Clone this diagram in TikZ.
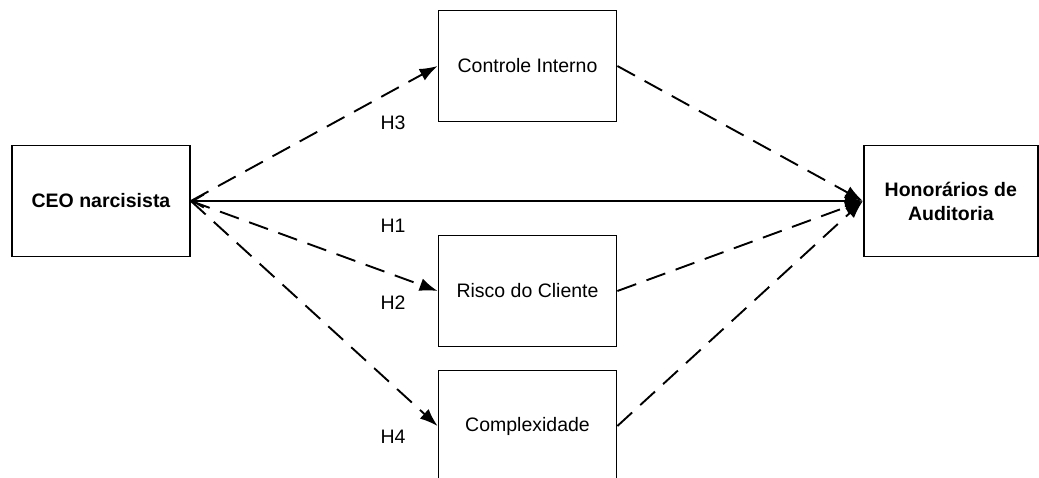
\documentclass[tikz,border=0pt]{standalone}
\usepackage{fontspec}
\setmainfont{Liberation Sans}
\usetikzlibrary{arrows.meta,positioning}

\begin{document}
\begin{tikzpicture}[
      x=1pt, y=-1pt,
      every node/.style = {align=center, font=\fontsize{19.5}{24}\selectfont},
      box/.style = {draw=black, line width=1.8pt, minimum width=178pt, minimum height=111pt, inner sep=0pt},
      keybox/.style = {box, font=\fontsize{19.5}{24}\selectfont\bfseries},
      hyp/.style = {inner sep=0pt},
      link/.style = {line width=1.9pt, -{Latex[length=18pt,width=13pt]}},
      mediated/.style = {link, dash pattern=on 20pt off 11pt}
    ]
    \useasboundingbox (0,0) rectangle (1039,478);

    \node (ceo)        [keybox] at (101,201)          {CEO narcisista};
    \node (honorarios) [keybox, right=672pt of ceo, minimum width=174pt] {Honorários de\\Auditoria};

    \node (controle)   [box] at (527.5,66)  {Controle Interno};
    \node (risco)      [box] at (527.5,291) {Risco do Cliente};
    \node (complex)    [box] at (527.5,426) {Complexidade};

    \node (h3) [hyp] at (393,123) {H3};
    \node (h1) [hyp] at (393,226) {H1};
    \node (h2) [hyp] at (393,303) {H2};
    \node (h4) [hyp] at (393,437) {H4};

    % direct effect
    \draw [line width=1.9pt, {Straight Barb[length=11pt,width=13pt]}-{Latex[length=18pt,width=13pt]}]
          (ceo.east) to (honorarios.west);

    % paths through the mediators
    \draw [mediated] (ceo.east)      to (controle.west);
    \draw [mediated] (ceo.east)      to (risco.west);
    \draw [mediated] (ceo.east)      to (complex.west);
    \draw [mediated] (controle.east) to (honorarios.west);
    \draw [mediated] (risco.east)    to (honorarios.west);
    \draw [mediated] (complex.east)  to (honorarios.west);

  \end{tikzpicture}
\end{document}
